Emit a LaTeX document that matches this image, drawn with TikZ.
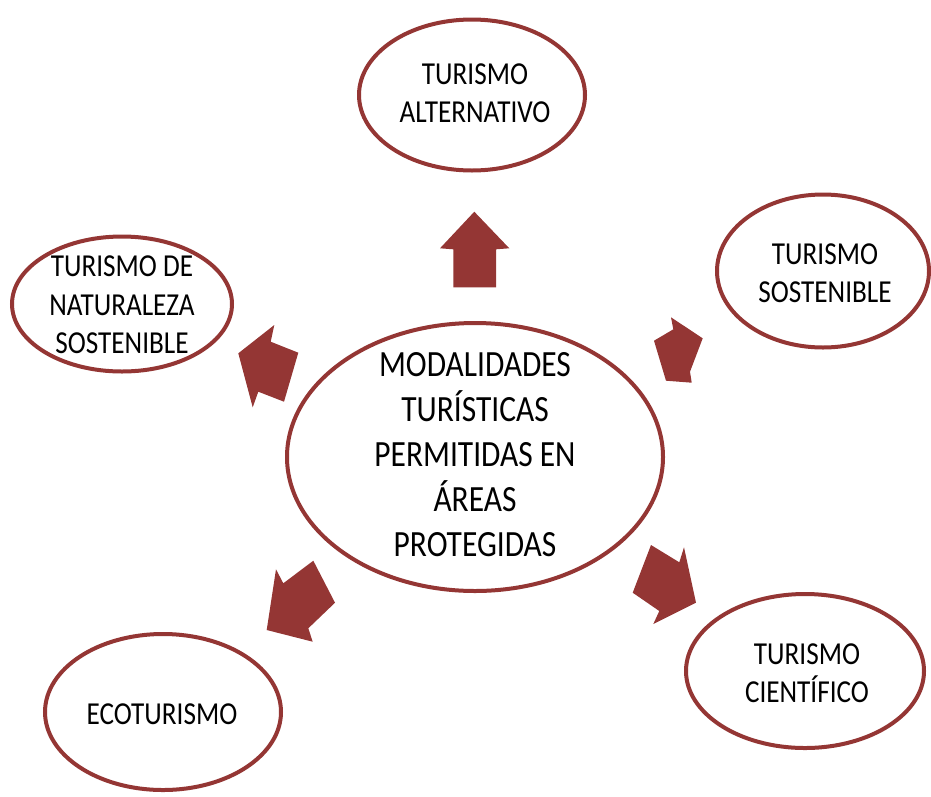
\documentclass[tikz,border=0pt]{standalone}
\usepackage{fontspec}
\setmainfont{Carlito}[FakeStretch=0.85]
\usetikzlibrary{shapes.geometric}
\definecolor{rim}{HTML}{943634}
\tikzset{
  oval/.style={ellipse, draw=rim, line width=4pt, fill=white, inner sep=0pt},
  lbl/.style={align=center, inner sep=0pt, text=black, font=\fontsize{32}{38.5}\selectfont},
  biglbl/.style={align=center, inner sep=0pt, text=black, font=\fontsize{37}{45}\selectfont},
  blockarrow/.style={fill=rim, draw=none}
}
\begin{document}
\begin{tikzpicture}[x=1pt,y=-1pt]
\useasboundingbox (0,0) rectangle (931,796);
% ellipses
\node[oval, minimum width=376pt, minimum height=268pt] (c) at (475,457) {};
\node[oval, minimum width=226pt, minimum height=151pt] (top) at (472,95) {};
\node[oval, minimum width=212pt, minimum height=153pt] (rs) at (823,271) {};
\node[oval, minimum width=220pt, minimum height=135pt] (ls) at (122,304) {};
\node[oval, minimum width=236pt, minimum height=156pt] (eco) at (163,712) {};
\node[oval, minimum width=238pt, minimum height=154pt] (sci) at (805,671) {};
% texts
\node[biglbl] (ct) at (475,455) {MODALIDADES\\TURÍSTICAS\\PERMITIDAS EN\\ÁREAS\\PROTEGIDAS};
\node[lbl] (topt) at (475,93) {TURISMO\\ALTERNATIVO};
\node[lbl] (rst) at (825,273) {TURISMO\\SOSTENIBLE};
\node[lbl] (lst) at (122,305) {TURISMO DE\\NATURALEZA\\SOSTENIBLE};
\node[lbl] (ecot) at (162,714) {ECOTURISMO};
\node[lbl] (scit) at (807,673) {TURISMO\\CIENTÍFICO};
% block arrows
\fill[blockarrow] (474.3,211.7) -- (509.3,248.3) -- (496,249.3) -- (496,287.3) -- (453.3,287.3) -- (453.3,249.3) -- (440,248.3) -- cycle;
\fill[blockarrow] (654,340.7) -- (673.3,329.3) -- (671,317.3) -- (702.7,338.3) -- (690,371.7) -- (691.7,382.7) -- (666,380.7) -- cycle;
\fill[blockarrow] (651,545) -- (679.3,562.3) -- (684,547.3) -- (696,602.7) -- (653.3,624) -- (659.3,611) -- (632.7,592.7) -- cycle;
\fill[blockarrow] (313.3,560.7) -- (335,602.7) -- (308.3,628.3) -- (312.7,641.7) -- (266.7,630) -- (276,569.3) -- (283.3,583.3) -- cycle;
\fill[blockarrow] (274.3,325) -- (270.7,341.7) -- (298.3,352.7) -- (284,401.7) -- (258.3,391.7) -- (252.7,407.3) -- (238.3,353.3) -- cycle;
\end{tikzpicture}
\end{document}
